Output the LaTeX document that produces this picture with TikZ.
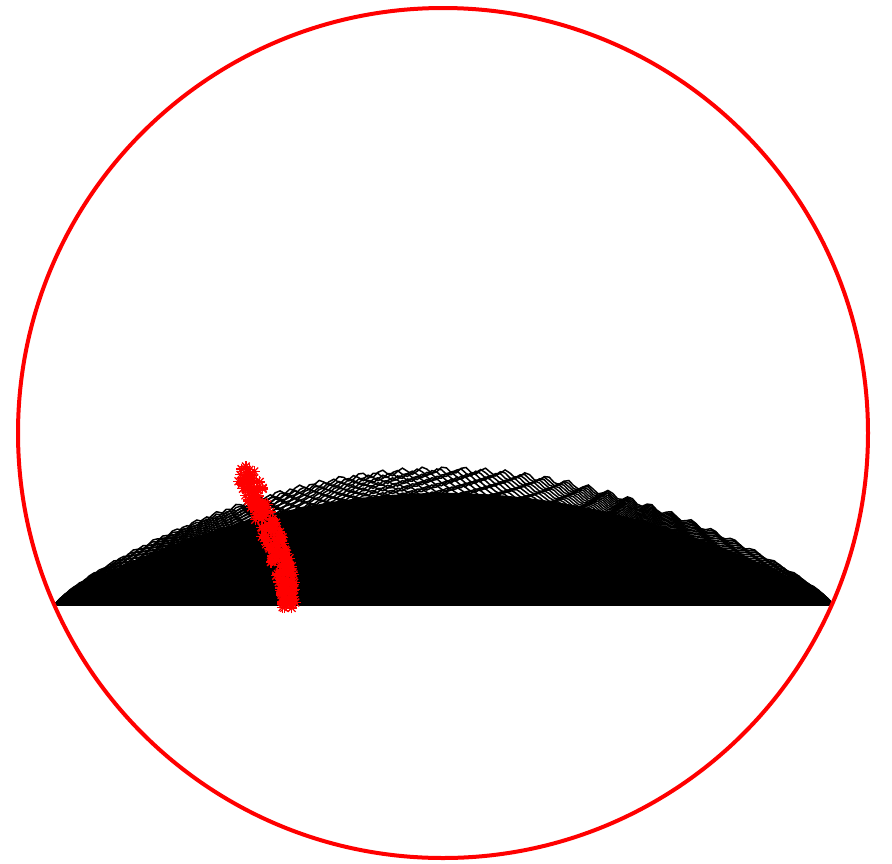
\documentclass[tikz,border=0pt]{standalone}
\begin{document}
\begin{tikzpicture}[x=1pt,y=-1pt]
\tikzset{
  ring/.style={draw=red,line width=4pt},
  lace/.style={draw=black,line width=1.5pt,line join=miter},
  starline/.style={draw=red,line width=1.3pt}
}
\useasboundingbox[fill=white] (0,0) rectangle (892,863);
% solid dome
\fill[black] plot[domain=55:833,samples=200] (\x,{605-112*pow(abs(sin(0.23136*(\x-55)))+0.001,0.8)}) -- (833,605) -- (55,605) -- cycle;
% lace layers near the top
\foreach \k in {0,...,16}{
  \pgfmathsetmacro\H{106+1.8*\k}
  \pgfmathsetmacro\ph{\k*97}
  \pgfmathsetmacro\fr{11+0.4*\k}
  \draw[lace] plot[domain=55:833,samples=160]
    (\x,{605-\H*pow(abs(sin(0.23136*(\x-55)))+0.001,0.8)+3.5*sin(\fr*\x+\ph)*pow(abs(sin(0.23136*(\x-55)))+0.001,0.5)});
}
% base line
\draw[black,line width=1pt] (55,605) -- (833,605);
% red star band
\pgfmathsetseed{7}
\foreach \i in {0,...,200}{
  \pgfmathsetmacro\t{\i/200}
  \pgfmathsetmacro\px{(1-\t)^3*243+3*(1-\t)^2*\t*266+3*(1-\t)*\t^2*286+\t^3*290}
  \pgfmathsetmacro\py{(1-\t)^3*468+3*(1-\t)^2*\t*520+3*(1-\t)*\t^2*560+\t^3*606}
  \pgfmathsetmacro\dx{rand*(8+4*(1-\t))}
  \pgfmathsetmacro\dy{rand*5}
  \begin{scope}[shift={(\px+\dx,\py+\dy)}]
    \foreach \a in {0,45,90,135}{
      \draw[starline] (\a:5.5) -- (\a+180:5.5);
    }
  \end{scope}
}
% circle
\draw[ring] (443,433) circle [radius=425];
\end{tikzpicture}
\end{document}
